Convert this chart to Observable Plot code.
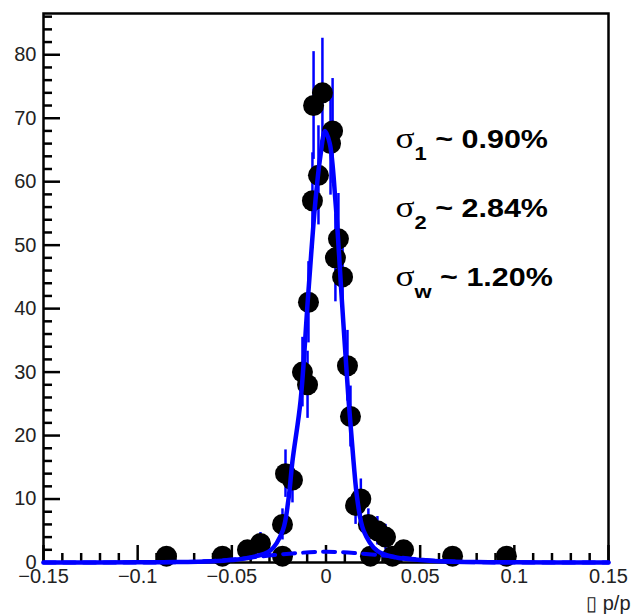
<!DOCTYPE html>
<html><head><meta charset="utf-8">
<script src="https://cdn.jsdelivr.net/npm/d3@7"></script>
<script src="https://cdn.jsdelivr.net/npm/@observablehq/plot@0.6"></script>
<style>body{margin:0;background:#fff;}</style>
</head><body><div id="chart"></div>
<script>
// Data points
const pointX = [-0.0847, -0.0550, -0.0417, -0.0348, -0.0231, -0.0231, -0.0215, -0.0178, -0.0125, -0.0098, -0.0093, -0.0072, -0.0040, -0.0066, -0.0019, 0.0024, 0.0035, 0.0050, 0.0066, 0.0088, 0.0114, 0.0130, 0.0157, 0.0185, 0.0225, 0.0273, 0.0316, 0.0236, 0.0353, 0.0412, 0.0672, 0.0958];
const pointY = [1, 1, 2, 3, 6, 1, 14, 13, 30, 28, 41, 57, 61, 72, 74, 66, 68, 48, 51, 45, 31, 23, 9, 10, 6, 5, 4, 1, 1, 2, 1, 1];
const pointErr = [1, 1, 1.41, 1.73, 2.45, 1, 3.74, 3.61, 5.48, 5.29, 6.4, 7.55, 7.81, 8.49, 8.6, 8.12, 8.25, 6.93, 7.14, 6.71, 5.57, 4.8, 3, 3.16, 2.45, 2.24, 2, 1, 1, 1.41, 1, 1];

// Fit curve (solid) and wide component (dashed)
const fitX = [-0.15, -0.1, -0.08, -0.06, -0.05, -0.04, -0.0295, -0.023, -0.020, -0.0178, -0.0135, -0.0095, -0.0056, -0.003, -0.0005, 0.002, 0.005, 0.0085, 0.012, 0.0146, 0.0167, 0.020, 0.027, 0.037, 0.05, 0.06, 0.08, 0.1, 0.15];
const fitY = [0, 0.02, 0.06, 0.2, 0.4, 0.8, 1.9, 5, 9.8, 16, 25.5, 42, 57, 64, 68, 66, 57, 41, 25.5, 16, 9.8, 5, 1.9, 0.8, 0.4, 0.2, 0.06, 0.02, 0];
const wideX = [-0.15, -0.1, -0.08, -0.06, -0.045, -0.03, -0.015, 0, 0.015, 0.03, 0.045, 0.06, 0.08, 0.1, 0.15];
const wideY = [0, 0.01, 0.05, 0.25, 0.6, 1.1, 1.5, 1.7, 1.5, 1.1, 0.6, 0.25, 0.05, 0.01, 0];

// Ticks
const xMajorTicks = [-0.15, -0.1, -0.05, 0, 0.05, 0.1, 0.15];
const xMinorTicks = [-0.14, -0.13, -0.12, -0.11, -0.09, -0.08, -0.07, -0.06, -0.04, -0.03, -0.02, -0.01, 0.01, 0.02, 0.03, 0.04, 0.06, 0.07, 0.08, 0.09, 0.11, 0.12, 0.13, 0.14];
const yMajorTicks = [0, 10, 20, 30, 40, 50, 60, 70, 80];
const yMinorTicks = [2, 4, 6, 8, 12, 14, 16, 18, 22, 24, 26, 28, 32, 34, 36, 38, 42, 44, 46, 48, 52, 54, 56, 58, 62, 64, 66, 68, 72, 74, 76, 78, 82, 84, 86];

// Texts
const sigmaSubs = ["1", "2", "w"];
const sigmaValues = ["0.90%", "2.84%", "1.20%"];
const xTitle = "\u25AF p/p";

const points = pointX.map((x, i) => ({x, y: pointY[i], e: pointErr[i]}));
const fit = fitX.map((x, i) => ({x, y: fitY[i]}));
const wide = wideX.map((x, i) => ({x, y: wideY[i]}));

const blue = "#0000ff";
const fmt = d => (d < 0 ? "\u2212" : "") + String(Math.abs(d));

const svg = Plot.plot({
  width: 633, height: 614,
  marginLeft: 43, marginRight: 25, marginTop: 13, marginBottom: 52,
  style: {fontFamily: "'Liberation Sans', Arial, sans-serif", background: "white", overflow: "visible"},
  x: {domain: [-0.15, 0.15]},
  y: {domain: [0, 86.5]},
  marks: [
    Plot.frame({stroke: "black", strokeWidth: 2.5}),
    Plot.axisX({ticks: xMinorTicks, tickSize: -9, tickFormat: () => "", label: null, stroke: "black", strokeWidth: 2.5}),
    Plot.axisX({ticks: xMajorTicks, tickSize: -17, tickPadding: 23, tickFormat: fmt, fontSize: 20, fill: "#222", stroke: "black", strokeWidth: 2.5,
      label: xTitle, labelAnchor: "right", labelOffset: 47, labelArrow: "none"}),
    Plot.axisY({ticks: yMinorTicks, tickSize: -9, tickFormat: () => "", label: null, stroke: "black", strokeWidth: 2.5}),
    Plot.axisY({ticks: yMajorTicks, tickSize: -17, tickPadding: 24, tickFormat: d => String(d), fontSize: 20, fill: "#222", stroke: "black", strokeWidth: 2.5, label: null}),
    Plot.ruleX(points, {x: "x", y1: d => d.y - d.e, y2: d => d.y + d.e, stroke: blue, strokeWidth: 2.5}),
    Plot.dot(points, {x: "x", y: "y", r: 10.5, fill: "black", stroke: "none"}),
    Plot.line(wide, {x: "x", y: "y", stroke: blue, strokeWidth: 4, strokeDasharray: "12,8", curve: "catmull-rom"}),
    Plot.line(fit, {x: "x", y: "y", stroke: blue, strokeWidth: 4.5, curve: "catmull-rom"}),
    Plot.text(sigmaSubs, {x: 0.0369, y: (d, i) => 66.5 - i * 10.8, text: d => "\u03C3" + d, textAnchor: "start", fontSize: 25, fontWeight: "bold", fill: "black"})
  ]
});

d3.select(svg).selectAll('g[aria-label="text"] text').each(function(_, i) {
  const t = d3.select(this);
  t.text(null);
  const tr = t.attr("transform") || "";
  t.attr("transform", tr + " scale(1.22,1)");
  t.append("tspan").attr("font-family", "'Liberation Serif', 'DejaVu Serif', serif").attr("font-weight", "normal").attr("font-size", 29).text("\u03C3");
  t.append("tspan").attr("font-size", 18).attr("dy", 12).text(sigmaSubs[i]);
  t.append("tspan").attr("dy", -12).text(" ~ " + sigmaValues[i]);
});

document.getElementById("chart").appendChild(svg);
</script>
</body></html>
